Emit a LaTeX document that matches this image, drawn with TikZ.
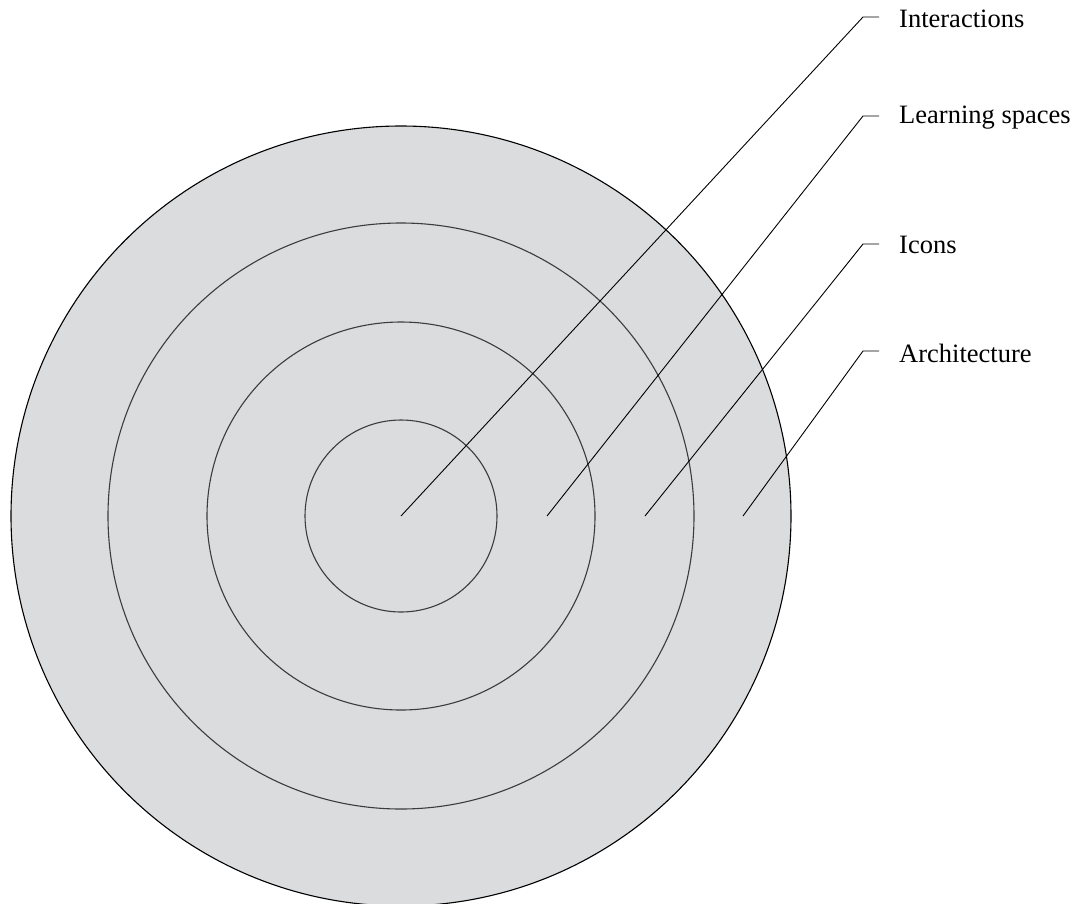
\documentclass[tikz,border=0pt]{standalone}
\usepackage{fontspec}
\setmainfont{Liberation Serif}
\definecolor{ringfill}{RGB}{219,220,222}
\definecolor{ringline}{RGB}{60,60,60}
\begin{document}
\begin{tikzpicture}[x=1pt,y=-1pt,
  ring/.style={draw=ringline,line width=1.1pt},
  leader/.style={draw=black,line width=0.9pt},
  lab/.style={anchor=west,inner sep=0pt,font=\fontsize{26.5}{30}\selectfont}]
\useasboundingbox (0,0) rectangle (1079,903);
\begin{scope}
\clip (0,0) rectangle (1079,903);
\fill[ringfill] (401,516) circle[radius=390];
\draw[line width=1.1pt,black] (401,516) circle[radius=390];
\end{scope}
\draw[ring] (401,516) circle[radius=293];
\draw[ring] (401,516) circle[radius=194];
\draw[ring] (401,516) circle[radius=96];
\coordinate (s1) at (401,516);
\coordinate (s2) at (547,516);
\coordinate (s3) at (645,516);
\coordinate (s4) at (743,516);
\coordinate (k1) at (863,17);
\coordinate (k2) at (863,116);
\coordinate (k3) at (863,244);
\coordinate (k4) at (863,351);
\node[lab] (t1) at (899,19) {Interactions};
\node[lab] (t2) at (899,118) {Learning spaces};
\node[lab] (t3) at (899,245) {Icons};
\node[lab] (t4) at (899,353) {Architecture};
\draw[leader] (s1) -- (k1) -- ++(16,0);
\draw[leader] (s2) -- (k2) -- ++(16,0);
\draw[leader] (s3) -- (k3) -- ++(16,0);
\draw[leader] (s4) -- (k4) -- ++(16,0);
\end{tikzpicture}
\end{document}
